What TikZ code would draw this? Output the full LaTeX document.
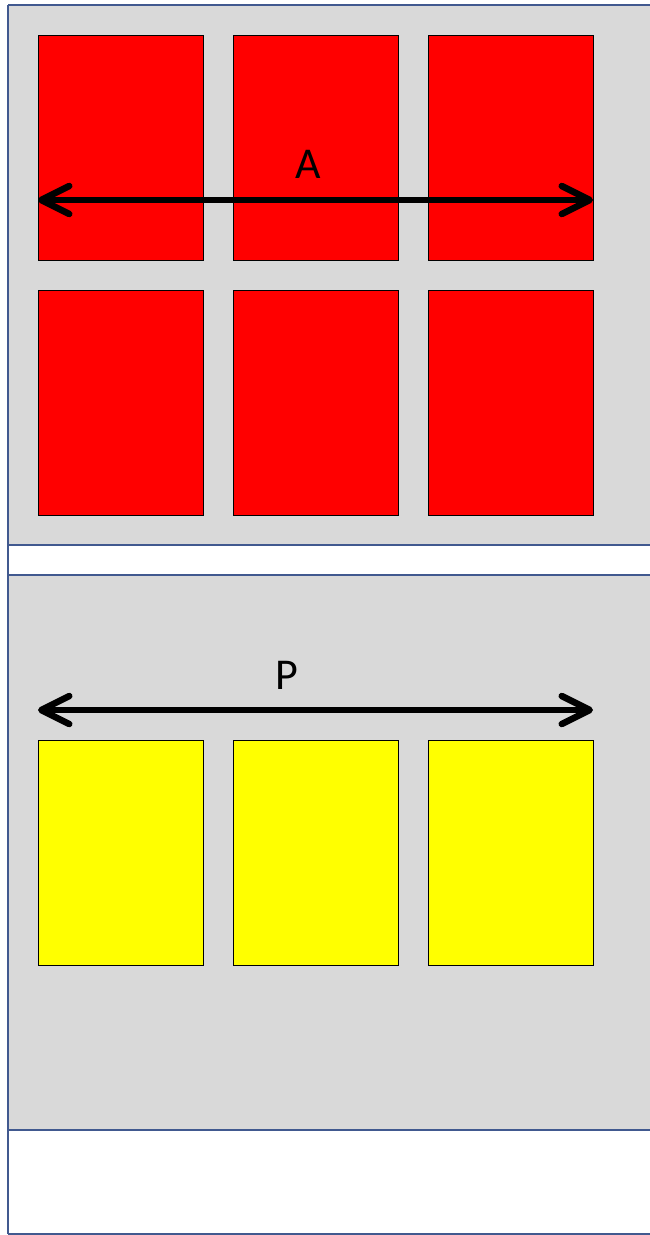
\documentclass[tikz,border=0pt]{standalone}
\usepackage{fontspec}
\setmainfont{Carlito}
\usetikzlibrary{arrows.meta, positioning, calc}
\definecolor{panelgray}{HTML}{D9D9D9}
\definecolor{framecolor}{HTML}{41598F}
\definecolor{cellred}{HTML}{FF0000}
\definecolor{cellyellow}{HTML}{FFFF00}

\begin{document}
\begin{tikzpicture}[
    x=1pt, y=-1pt,
    node distance=30pt,
    cell/.style={rectangle, draw=black, fill=#1, line width=0.8pt,
                 minimum width=165pt, minimum height=225pt,
                 inner sep=0pt, outer sep=0pt},
    frameline/.style={draw=framecolor, line width=1.6pt},
    span/.style={{Straight Barb[length=28pt, width=28pt, line cap=round, line join=round]}-{Straight Barb[length=28pt, width=28pt, line cap=round, line join=round]},
                 line width=6.5pt, color=black},
    label/.style={font=\fontsize{44}{52}\selectfont, text=black, inner sep=0pt}
]
\useasboundingbox (0,0) rectangle (650,1235);

% Panels
\fill[panelgray] (8,5) rectangle (650,545);
\fill[panelgray] (8,575) rectangle (650,1130);
\foreach \y in {5,545,575,1130,1234}
    \draw[frameline] (8,\y) -- (650,\y);
\draw[frameline] (8,5) -- (8,1234);

% Top panel: two rows of red cells
\node[cell=cellred] (a1) at (120.5,147.5) {};
\node[cell=cellred, right=of a1] (a2) {};
\node[cell=cellred, right=of a2] (a3) {};
\node[cell=cellred, below=of a1] (a4) {};
\node[cell=cellred, right=of a4] (a5) {};
\node[cell=cellred, right=of a5] (a6) {};

% Bottom panel: one row of yellow cells
\node[cell=cellyellow] (p1) at (120.5,852.5) {};
\node[cell=cellyellow, right=of p1] (p2) {};
\node[cell=cellyellow, right=of p2] (p3) {};

% Span arrows
\draw[span] ([yshift=-165pt]a1.north west) -- ([yshift=-165pt]a3.north east);
\node[label] (la) at (308,164) {A};

\draw[span] ([yshift=30pt]p1.north west) -- ([yshift=30pt]p3.north east);
\node[label] (lp) at (287,675) {P};

\end{tikzpicture}
\end{document}
